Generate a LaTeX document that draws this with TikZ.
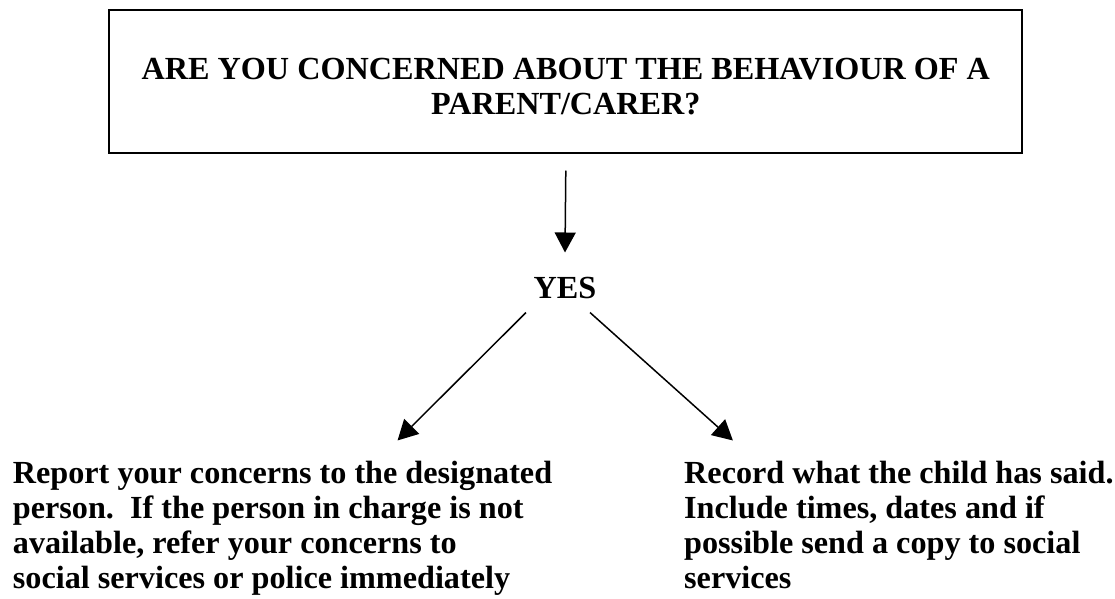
\documentclass[tikz,border=0pt]{standalone}
\usepackage{fontspec}
\setmainfont{Liberation Serif}
\usepackage{tikz}
\usetikzlibrary{positioning,arrows.meta}

\begin{document}
\begin{tikzpicture}[
  x=1pt, y=-1pt,
  question/.style={rectangle, draw, line width=2pt, minimum width=913pt, minimum height=143pt, align=center, font=\fontsize{32.2}{35}\selectfont\bfseries},
  answer/.style={font=\fontsize{32.2}{35}\selectfont\bfseries, inner sep=0pt},
  action/.style={font=\fontsize{32.2}{35}\selectfont\bfseries, align=left, inner sep=0pt},
  flow/.style={-{Triangle[length=20pt,width=21pt]}, line width=1.5pt}
]
\useasboundingbox (0,0) rectangle (1115,598);

% Question
\node[question] (Q) at (565.8,81) {\rule{0pt}{33pt}ARE YOU CONCERNED ABOUT THE BEHAVIOUR OF A\\PARENT/CARER?};

% Answer
\node[answer, anchor=base] (Y) at (565,298) {YES};
\draw[flow] ([yshift=-17pt]Q.south) -- ([yshift=24pt]Y.north);

% Actions (base = last line)
\node[action, anchor=base west] (R1) at (12.7,588) {Report your concerns to the designated\\person.\ \ If the person in charge is not\\available, refer your concerns to\\social services or police immediately};
\node[action, anchor=base west] (R2) at (684,588) {Record what the child has said.\\Include times, dates and if\\possible send a copy to social\\services};

\draw[flow] ([xshift=-39pt,yshift=-14pt]Y.south) -- ([xshift=115pt,yshift=20pt]R1.north);
\draw[flow] ([xshift=25pt,yshift=-14pt]Y.south) -- ([xshift=-166pt,yshift=20pt]R2.north);

\end{tikzpicture}
\end{document}
